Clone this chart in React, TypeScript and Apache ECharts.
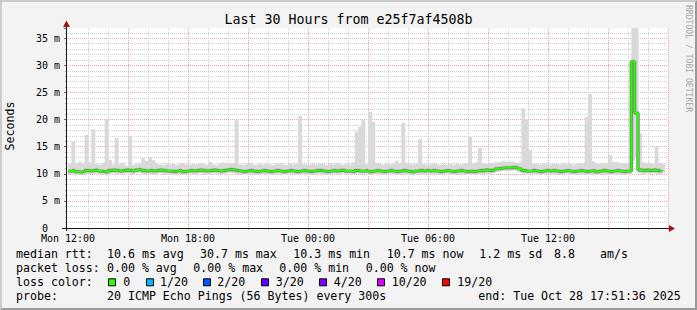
import React, { useEffect, useRef } from 'react';
import * as echarts from 'echarts';

// ---------- data ----------
const startHour = 12; // Mon 12:00, hours since Mon 00:00
const stepHours = 1 / 6; // 10 minute steps

// median RTT (ms), one value per 10 minutes
const medianMs = [
  10.5, 10.6, 10.4, 10.3, 10.4, 10.6,
  10.5, 10.6, 10.7, 10.5, 10.4, 10.3,
  10.6, 10.7, 10.6, 10.5, 10.6, 10.7,
  10.6, 10.5, 10.7, 10.8, 10.6, 10.5,
  10.6, 10.5, 10.6, 10.7, 10.6, 10.5,
  10.5, 10.4, 10.5, 10.6, 10.4, 10.5,
  10.6, 10.5, 10.6, 10.7, 10.6, 10.5,
  10.6, 10.7, 10.6, 10.5, 10.6, 10.7,
  10.8, 10.7, 10.6, 10.5, 10.4, 10.5,
  10.6, 10.5, 10.4, 10.5, 10.6, 10.5,
  10.4, 10.5, 10.6, 10.5, 10.4, 10.5,
  10.6, 10.5, 10.4, 10.5, 10.6, 10.5,
  10.4, 10.5, 10.6, 10.6, 10.5, 10.4,
  10.5, 10.6, 10.5, 10.6, 10.7, 10.5,
  10.5, 10.4, 10.6, 10.5, 10.5, 10.6,
  10.4, 10.5, 10.6, 10.5, 10.4, 10.5,
  10.6, 10.5, 10.4, 10.5, 10.6, 10.5,
  10.4, 10.3, 10.5, 10.6, 10.5, 10.6,
  10.5, 10.6, 10.5, 10.4, 10.5, 10.6,
  10.5, 10.4, 10.5, 10.6, 10.5, 10.4,
  10.5, 10.4, 10.5, 10.6, 10.5, 10.7,
  10.6, 10.7, 10.9, 11.0, 11.1, 11.1,
  11.1, 11.2, 11.1, 10.9, 10.6, 10.5,
  10.5, 10.6, 10.5, 10.4, 10.5, 10.6,
  10.5, 10.6, 10.5, 10.4, 10.5, 10.6,
  10.5, 10.4, 10.5, 10.6, 10.5, 10.4,
  10.5, 10.6, 10.4, 10.5, 10.6, 10.5,
  10.4, 10.5, 10.6, 10.5, 10.4, 10.5,
  10.5, 30.7, 21.2, 10.7, 10.6, 10.7,
  10.6, 10.7, 10.6, 10.5, 10.7,
];

// top of the smoke (slowest ping, ms)
const upperMs = [
  11.8, 16.0, 12.0, 12.2, 11.9, 17.2,
  12.1, 18.2, 11.8, 11.6, 12.0, 20.1,
  12.6, 11.7, 16.6, 11.8, 12.1, 11.5,
  17.0, 11.6, 11.8, 12.0, 12.9, 12.4,
  13.1, 12.5, 12.0, 11.7, 11.6, 11.8,
  11.7, 11.9, 11.6, 11.8, 12.0, 11.7,
  11.6, 11.8, 11.7, 12.0, 11.8, 11.6,
  12.2, 11.7, 11.6, 11.8, 12.1, 11.9,
  11.8, 12.0, 19.9, 11.7, 11.6, 11.8,
  12.0, 11.7, 11.6, 11.9, 11.7, 11.8,
  11.7, 11.6, 11.8, 11.9, 11.7, 11.6,
  11.8, 11.7, 11.9, 20.7, 11.8, 11.7,
  11.6, 11.8, 11.7, 11.9, 11.8, 11.6,
  11.9, 11.7, 12.0, 11.8, 11.6, 11.8,
  11.7, 12.1, 17.8, 18.7, 19.9, 11.8,
  21.4, 19.6, 12.0, 11.8, 11.7, 11.9,
  11.7, 11.8, 12.4, 11.9, 19.4, 12.0,
  11.8, 11.7, 11.9, 16.4, 11.8, 11.6,
  11.7, 11.9, 11.8, 11.6, 11.8, 11.7,
  11.8, 11.6, 11.9, 11.7, 11.8, 12.0,
  16.8, 11.9, 12.1, 14.8, 12.0, 11.8,
  11.9, 12.0, 12.1, 12.2, 12.3, 12.2,
  12.3, 12.2, 12.0, 12.1, 22.1, 20.1,
  14.4, 11.9, 11.8, 11.7, 11.9, 11.8,
  11.7, 11.9, 11.8, 11.7, 12.0, 11.8,
  11.9, 11.7, 11.8, 12.0, 11.9, 20.5,
  24.7, 12.3, 11.9, 11.8, 12.0, 11.9,
  13.5, 12.2, 12.2, 11.9, 12.0, 12.0,
  12.0, 36.9, 36.9, 17.5, 12.1, 12.0,
  12.0, 11.9, 15.0, 12.0, 11.8,
];

// bottom of the smoke (fastest ping, ms)
const lowerMs = [
  9.8, 9.9, 9.7, 9.8, 9.9, 10.0,
  9.9, 10.0, 10.1, 9.9, 9.8, 9.7,
  10.0, 10.1, 10.0, 9.9, 10.0, 10.1,
  10.0, 9.9, 10.1, 10.2, 10.0, 9.9,
  10.0, 9.9, 10.0, 10.1, 10.0, 9.9,
  9.9, 9.8, 9.9, 10.0, 9.8, 9.9,
  10.0, 9.9, 10.0, 10.1, 10.0, 9.9,
  10.0, 10.1, 10.0, 9.9, 10.0, 10.1,
  10.2, 10.1, 10.0, 9.9, 9.8, 9.9,
  10.0, 9.9, 9.8, 9.9, 10.0, 9.9,
  9.8, 9.9, 10.0, 9.9, 9.8, 9.9,
  10.0, 9.9, 9.8, 9.9, 10.0, 9.9,
  9.8, 9.9, 10.0, 10.0, 9.9, 9.8,
  9.9, 10.0, 9.9, 10.0, 10.1, 9.9,
  9.9, 9.8, 10.0, 9.9, 9.9, 10.0,
  9.8, 9.9, 10.0, 9.9, 9.8, 9.9,
  10.0, 9.9, 9.8, 9.9, 10.0, 9.9,
  9.8, 9.7, 9.9, 10.0, 9.9, 10.0,
  9.9, 10.0, 9.9, 9.8, 9.9, 10.0,
  9.9, 9.8, 9.9, 10.0, 9.9, 9.8,
  9.9, 9.8, 9.9, 10.0, 9.9, 10.0,
  10.0, 10.1, 10.3, 10.4, 10.5, 10.5,
  10.5, 10.6, 10.5, 10.3, 10.0, 9.9,
  9.9, 10.0, 9.9, 9.8, 9.9, 10.0,
  9.9, 10.0, 9.9, 9.8, 9.9, 10.0,
  9.9, 9.8, 9.9, 10.0, 9.9, 9.8,
  9.9, 10.0, 9.8, 9.9, 10.0, 9.9,
  9.8, 9.9, 10.0, 9.9, 9.8, 9.9,
  9.9, 12.4, 13.0, 10.0, 10.0, 10.1,
  10.0, 10.1, 10.0, 9.9, 10.1,
];

const xMin = 12;
const xMax = 42;
const xTickHours = [12, 18, 24, 30, 36];
const xTickLabels = ['Mon 12:00', 'Mon 18:00', 'Tue 00:00', 'Tue 06:00', 'Tue 12:00'];
const yMax = 36.9;

const titleText = 'Last 30 Hours from e25f7af4508b';
const yAxisTitle = 'Seconds';
const watermark = 'RRDTOOL / TOBI OETIKER';

const medianAvg = '10.6';
const medianMaxV = '30.7';
const medianMinV = '10.3';
const medianNow = '10.7';
const medianSd = '1.2';
const amps = '8.8';
const lossAvg = '0.00';
const lossMax = '0.00';
const lossMin = '0.00';
const lossNow = '0.00';
const lossLabels = ['0', '1/20', '2/20', '3/20', '4/20', '10/20', '19/20'];
const lossColors = ['#26ff00', '#00b8ff', '#0059ff', '#5e00ff', '#7e00ff', '#dd00ff', '#ff0000'];
const probeText = '20 ICMP Echo Pings (56 Bytes) every 300s';
const endText = 'end: Tue Oct 28 17:51:36 2025';

// ---------- layout ----------
const W = 697;
const H = 310;
const MONO = '"DejaVu Sans Mono", monospace';
const gridLeft = 68;
const gridTop = 28;
const gridRight = 668;
const gridBottom = 228;
const row1 = [16, 107, 200, 293.3, 386.7, 479.3, 554, 600];
const row2 = [16, 107, 193.3, 279.3, 365.7];
const rowY = [254.3, 268.3, 282.3, 296];
const boxX = [108.3, 145.7, 203.3, 261, 319.3, 377.3, 442.3];
const boxTextX = [123.3, 160, 217.3, 275.7, 333.7, 391.7, 457.3];

function txt(text: string, x: number, y: number, extra: any = {}) {
  return {
    type: 'text',
    x,
    y,
    silent: true,
    style: {
      text,
      fill: '#000',
      fontFamily: MONO,
      fontSize: 11.6,
      align: 'left',
      verticalAlign: 'middle',
      ...extra,
    },
  };
}

export default function App() {
  const ref = useRef<HTMLDivElement>(null);

  useEffect(() => {
    if (!ref.current) return;
    const chart = echarts.init(ref.current, undefined, { renderer: 'svg' });

    const xs = medianMs.map((_, i) => startHour + i * stepHours);
    const pts = (arr: number[]) => arr.map((v, i) => [xs[i], v]);
    const smokeData = upperMs.map((v, i) => [xs[i], lowerMs[i], v]);

    const graphics: any[] = [];
    // frame shading
    graphics.push({ type: 'polygon', silent: true, shape: { points: [[0, 0], [W, 0], [W - 2, 2], [2, 2], [2, H - 2], [0, H]] }, style: { fill: '#cbcbcb' } });
    graphics.push({ type: 'polygon', silent: true, shape: { points: [[W, 0], [W, H], [0, H], [2, H - 2], [W - 2, H - 2], [W - 2, 2]] }, style: { fill: '#999999' } });
    // title
    graphics.push(txt(titleText, W / 2, 19.3, { align: 'center', fontSize: 13.3 }));
    // y title
    graphics.push({ type: 'text', x: 10, y: 126, rotation: Math.PI / 2, silent: true, style: { text: yAxisTitle, fill: '#000', fontFamily: MONO, fontSize: 11.6, align: 'center', verticalAlign: 'middle' } });
    // watermark
    graphics.push({ type: 'text', x: 688.5, y: 58.5, rotation: -Math.PI / 2, silent: true, style: { text: watermark, fill: '#a6a6a6', fontFamily: MONO, fontSize: 8.1, align: 'center', verticalAlign: 'middle' } });
    // axis lines (extended past the plot like rrdtool) and arrows
    graphics.push({ type: 'line', silent: true, z: 10, shape: { x1: 62, y1: gridBottom + 0.5, x2: gridRight + 2, y2: gridBottom + 0.5 }, style: { stroke: '#1a1a1a', lineWidth: 1 } });
    graphics.push({ type: 'line', silent: true, z: 10, shape: { x1: gridLeft - 1.5, y1: gridBottom + 3, x2: gridLeft - 1.5, y2: gridTop - 3 }, style: { stroke: '#1a1a1a', lineWidth: 1 } });
    graphics.push({ type: 'polygon', silent: true, z: 10, shape: { points: [[gridLeft - 5, gridTop - 1], [gridLeft + 2, gridTop - 1], [gridLeft - 1.5, gridTop - 7.5]] }, style: { fill: '#a31515' } });
    graphics.push({ type: 'polygon', silent: true, z: 10, shape: { points: [[gridRight + 1, gridBottom - 3], [gridRight + 1, gridBottom + 4], [gridRight + 7, gridBottom + 0.5]] }, style: { fill: '#a31515' } });

    // legend rows
    const r1 = ['median rtt:', `${medianAvg} ms avg`, `${medianMaxV} ms max`, `${medianMinV} ms min`, `${medianNow} ms now`, `${medianSd} ms sd`, amps, 'am/s'];
    r1.forEach((t, i) => graphics.push(txt(t, row1[i], rowY[0])));
    const r2 = ['packet loss:', `${lossAvg} % avg`, `${lossMax} % max`, `${lossMin} % min`, `${lossNow} % now`];
    r2.forEach((t, i) => graphics.push(txt(t, row2[i], rowY[1])));
    graphics.push(txt('loss color:', 16, rowY[2]));
    lossLabels.forEach((t, i) => {
      graphics.push({ type: 'rect', silent: true, shape: { x: Math.round(boxX[i]) + 0.5, y: rowY[2] - 3.5, width: 7, height: 7 }, style: { fill: lossColors[i], stroke: '#000', lineWidth: 1 } });
      graphics.push(txt(t, boxTextX[i], rowY[2]));
    });
    graphics.push(txt('probe:', 16, rowY[3]));
    graphics.push(txt(probeText, 107, rowY[3]));
    graphics.push(txt(endText, 478.3, rowY[3]));

    const option: any = {
      animation: false,
      backgroundColor: '#f3f3f3',
      grid: {
        left: gridLeft,
        top: gridTop,
        width: gridRight - gridLeft,
        height: gridBottom - gridTop,
        show: true,
        backgroundColor: '#ffffff',
        borderWidth: 0,
      },
      xAxis: {
        type: 'value',
        min: xMin,
        max: xMax,
        interval: 3,
        axisLine: { show: false },
        axisTick: { show: true, length: 2, lineStyle: { color: '#e88a8a' } },
        minorTick: { show: true, splitNumber: 3, length: 2, lineStyle: { color: '#bdbdbd' } },
        axisLabel: {
          margin: 5,
          fontFamily: MONO,
          fontSize: 10,
          lineHeight: 10,
          color: '#000',
          formatter: (v: number) => {
            const k = xTickHours.indexOf(Math.round(v));
            return k >= 0 ? xTickLabels[k] : '';
          },
        },
        splitLine: { show: true, showMinLine: false, lineStyle: { color: '#f2a3a3', width: 1, type: [1, 1] } },
        minorSplitLine: { show: true, lineStyle: { color: '#cfcfcf', width: 1, type: [1, 1] } },
      },
      yAxis: {
        type: 'value',
        min: 0,
        max: yMax,
        interval: 5,
        offset: 1,
        axisLine: { show: false },
        axisTick: { show: true, length: 3, lineStyle: { color: '#666666' } },
        minorTick: { show: true, splitNumber: 5, length: 2, lineStyle: { color: '#aaaaaa' } },
        axisLabel: {
          margin: 7,
          fontFamily: MONO,
          fontSize: 10,
          lineHeight: 10,
          color: '#000',
          showMaxLabel: false,
          formatter: (v: number) => {
            if (v === 0) return '0\u00a0\u00a0';
            return Math.abs(v % 5) < 1e-6 ? `${v} m` : '';
          },
        },
        splitLine: { show: true, showMinLine: false, showMaxLine: false, lineStyle: { color: '#f2a3a3', width: 1, type: [1, 1] } },
        minorSplitLine: { show: true, lineStyle: { color: '#cfcfcf', width: 1, type: [1, 1] } },
      },
      series: [
        {
          type: 'custom',
          name: 'smoke',
          data: smokeData,
          encode: { x: 0, y: [1, 2] },
          silent: true,
          clip: true,
          renderItem: (params: any, api: any) => {
            const x0 = api.value(0);
            const pLo = api.coord([x0, api.value(1)]);
            const pHi = api.coord([x0 + stepHours, api.value(2)]);
            return {
              type: 'rect',
              shape: {
                x: pLo[0],
                y: pHi[1],
                width: pHi[0] - pLo[0] + 0.6,
                height: pLo[1] - pHi[1],
              },
              style: { fill: '#d9d9d9' },
            };
          },
        },
        {
          type: 'line',
          name: 'median smoke',
          data: pts(medianMs),
          step: 'end',
          showSymbol: false,
          silent: true,
          lineStyle: { color: '#b3b3b3', width: 4 },
        },
        {
          type: 'line',
          name: 'median band',
          data: pts(medianMs),
          step: 'end',
          showSymbol: false,
          silent: true,
          lineStyle: { color: '#5a5a5a', width: 2.4 },
        },
        {
          type: 'line',
          name: 'median rtt',
          data: pts(medianMs),
          step: 'end',
          showSymbol: false,
          silent: true,
          lineStyle: { color: lossColors[0], width: 2 },
        },
      ],
      graphic: graphics,
    };

    chart.setOption(option);
    return () => chart.dispose();
  }, []);

  return (
    <div
      ref={ref}
      style={{ position: 'absolute', left: 0, top: 0, width: W, height: H }}
    />
  );
}
